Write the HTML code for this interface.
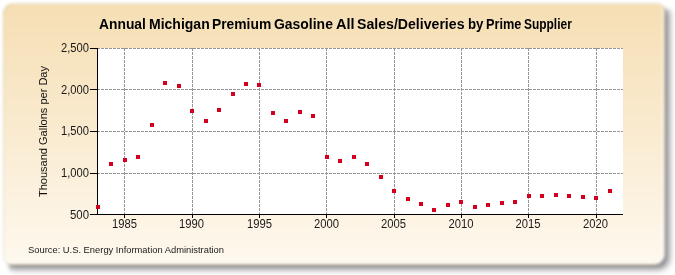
<!DOCTYPE html>
<html><head><meta charset="utf-8">
<style>
html,body{margin:0;padding:0;width:675px;height:275px;overflow:hidden;background:#fff;}
body{position:relative;font-family:"Liberation Sans",sans-serif;}
.sw{position:absolute;left:0;top:0;width:675px;height:275px;-webkit-mask-image:linear-gradient(to right,transparent 5px,#000 11px);mask-image:linear-gradient(to right,transparent 5px,#000 11px);}
.sw2{position:absolute;left:0;top:0;width:675px;height:275px;-webkit-mask-image:linear-gradient(to bottom,transparent 5px,#000 11px);mask-image:linear-gradient(to bottom,transparent 5px,#000 11px);}
.shadow{position:absolute;left:6.3px;top:7.1px;width:662.5px;height:262.2px;border-radius:11px 8px 11px 8px;background:rgba(10,10,20,0.52);filter:blur(3.6px);}
.box{position:absolute;left:2.5px;top:3.0px;width:662.5px;height:262.2px;border-radius:11px 8px 11px 8px;
box-sizing:border-box;border:1px solid rgba(110,110,80,0.15);background:linear-gradient(to bottom,#f5deb3 0%,#fef8ee 100%);filter:blur(1.6px);box-shadow:inset 0 -2px 1px rgba(255,255,255,0.8), inset -2px 0 1px rgba(255,255,255,0.45);}
svg{position:absolute;left:0;top:0;will-change:transform;}
text{font-family:"Liberation Sans",sans-serif;}
</style></head><body>
<div class="sw"><div class="sw2"><div class="shadow"></div></div></div>
<div class="box"></div>
<svg width="675" height="275">
<g shape-rendering="crispEdges">
<rect x="97" y="48" width="526" height="166" fill="#ffffff"/><line x1="124.5" y1="48" x2="124.5" y2="214" stroke="#969696" stroke-width="1" stroke-dasharray="3 1"/><line x1="192.5" y1="48" x2="192.5" y2="214" stroke="#969696" stroke-width="1" stroke-dasharray="3 1"/><line x1="259.5" y1="48" x2="259.5" y2="214" stroke="#969696" stroke-width="1" stroke-dasharray="3 1"/><line x1="326.5" y1="48" x2="326.5" y2="214" stroke="#969696" stroke-width="1" stroke-dasharray="3 1"/><line x1="394.5" y1="48" x2="394.5" y2="214" stroke="#969696" stroke-width="1" stroke-dasharray="3 1"/><line x1="461.5" y1="48" x2="461.5" y2="214" stroke="#969696" stroke-width="1" stroke-dasharray="3 1"/><line x1="528.5" y1="48" x2="528.5" y2="214" stroke="#969696" stroke-width="1" stroke-dasharray="3 1"/><line x1="596.5" y1="48" x2="596.5" y2="214" stroke="#969696" stroke-width="1" stroke-dasharray="3 1"/><line x1="97" y1="48.5" x2="623" y2="48.5" stroke="#969696" stroke-width="1" stroke-dasharray="3 1"/><line x1="97" y1="89.5" x2="623" y2="89.5" stroke="#969696" stroke-width="1" stroke-dasharray="3 1"/><line x1="97" y1="131.5" x2="623" y2="131.5" stroke="#969696" stroke-width="1" stroke-dasharray="3 1"/><line x1="97" y1="173.5" x2="623" y2="173.5" stroke="#969696" stroke-width="1" stroke-dasharray="3 1"/><rect x="97" y="48" width="1" height="167" fill="#000"/><rect x="97" y="214" width="526" height="1" fill="#000"/><rect x="90" y="48" width="7" height="1" fill="#000"/><rect x="90" y="89" width="7" height="1" fill="#000"/><rect x="90" y="131" width="7" height="1" fill="#000"/><rect x="90" y="173" width="7" height="1" fill="#000"/><rect x="90" y="214" width="7" height="1" fill="#000"/><rect x="124" y="214" width="1" height="4" fill="#000"/><rect x="192" y="214" width="1" height="4" fill="#000"/><rect x="259" y="214" width="1" height="4" fill="#000"/><rect x="326" y="214" width="1" height="4" fill="#000"/><rect x="394" y="214" width="1" height="4" fill="#000"/><rect x="461" y="214" width="1" height="4" fill="#000"/><rect x="528" y="214" width="1" height="4" fill="#000"/><rect x="596" y="214" width="1" height="4" fill="#000"/><rect x="96" y="205" width="4" height="4" fill="#d2001e"/><rect x="109" y="162" width="4" height="4" fill="#d2001e"/><rect x="123" y="158" width="4" height="4" fill="#d2001e"/><rect x="136" y="155" width="4" height="4" fill="#d2001e"/><rect x="150" y="123" width="4" height="4" fill="#d2001e"/><rect x="163" y="81" width="4" height="4" fill="#d2001e"/><rect x="177" y="84" width="4" height="4" fill="#d2001e"/><rect x="190" y="109" width="4" height="4" fill="#d2001e"/><rect x="204" y="119" width="4" height="4" fill="#d2001e"/><rect x="217" y="108" width="4" height="4" fill="#d2001e"/><rect x="231" y="92" width="4" height="4" fill="#d2001e"/><rect x="244" y="82" width="4" height="4" fill="#d2001e"/><rect x="257" y="83" width="4" height="4" fill="#d2001e"/><rect x="271" y="111" width="4" height="4" fill="#d2001e"/><rect x="284" y="119" width="4" height="4" fill="#d2001e"/><rect x="298" y="110" width="4" height="4" fill="#d2001e"/><rect x="311" y="114" width="4" height="4" fill="#d2001e"/><rect x="325" y="155" width="4" height="4" fill="#d2001e"/><rect x="338" y="159" width="4" height="4" fill="#d2001e"/><rect x="352" y="155" width="4" height="4" fill="#d2001e"/><rect x="365" y="162" width="4" height="4" fill="#d2001e"/><rect x="379" y="175" width="4" height="4" fill="#d2001e"/><rect x="392" y="189" width="4" height="4" fill="#d2001e"/><rect x="406" y="197" width="4" height="4" fill="#d2001e"/><rect x="419" y="202" width="4" height="4" fill="#d2001e"/><rect x="432" y="208" width="4" height="4" fill="#d2001e"/><rect x="446" y="203" width="4" height="4" fill="#d2001e"/><rect x="459" y="200" width="4" height="4" fill="#d2001e"/><rect x="473" y="205" width="4" height="4" fill="#d2001e"/><rect x="486" y="203" width="4" height="4" fill="#d2001e"/><rect x="500" y="201" width="4" height="4" fill="#d2001e"/><rect x="513" y="200" width="4" height="4" fill="#d2001e"/><rect x="527" y="194" width="4" height="4" fill="#d2001e"/><rect x="540" y="194" width="4" height="4" fill="#d2001e"/><rect x="554" y="193" width="4" height="4" fill="#d2001e"/><rect x="567" y="194" width="4" height="4" fill="#d2001e"/><rect x="581" y="195" width="4" height="4" fill="#d2001e"/><rect x="594" y="196" width="4" height="4" fill="#d2001e"/><rect x="608" y="189" width="4" height="4" fill="#d2001e"/>
</g>
<text x="99.0" y="29" font-size="14.5" font-weight="bold" fill="#000" textLength="46.89999999999999" lengthAdjust="spacingAndGlyphs">Annual</text><text x="149.0" y="29" font-size="14.5" font-weight="bold" fill="#000" textLength="60.7" lengthAdjust="spacingAndGlyphs">Michigan</text><text x="212.0" y="29" font-size="14.5" font-weight="bold" fill="#000" textLength="59.2" lengthAdjust="spacingAndGlyphs">Premium</text><text x="274.0" y="29" font-size="14.5" font-weight="bold" fill="#000" textLength="58.89999999999999" lengthAdjust="spacingAndGlyphs">Gasoline</text><text x="336.0" y="29" font-size="14.5" font-weight="bold" fill="#000" textLength="18.599999999999977" lengthAdjust="spacingAndGlyphs">All</text><text x="357.0" y="29" font-size="14.5" font-weight="bold" fill="#000" textLength="107.50000000000001" lengthAdjust="spacingAndGlyphs">Sales/Deliveries</text><text x="468.0" y="29" font-size="14.5" font-weight="bold" fill="#000" textLength="15.50000000000001" lengthAdjust="spacingAndGlyphs">by</text><text x="486.0" y="29" font-size="14.5" font-weight="bold" fill="#000" textLength="35.40000000000005" lengthAdjust="spacingAndGlyphs">Prime</text><text x="524.0" y="29" font-size="14.5" font-weight="bold" fill="#000" textLength="47.800000000000026" lengthAdjust="spacingAndGlyphs">Supplier</text>
<text x="89" y="52" text-anchor="end" font-size="12" fill="#1a1a1a" textLength="28" lengthAdjust="spacingAndGlyphs">2,500</text><text x="89" y="94" text-anchor="end" font-size="12" fill="#1a1a1a" textLength="28" lengthAdjust="spacingAndGlyphs">2,000</text><text x="89" y="135" text-anchor="end" font-size="12" fill="#1a1a1a" textLength="28" lengthAdjust="spacingAndGlyphs">1,500</text><text x="89" y="177" text-anchor="end" font-size="12" fill="#1a1a1a" textLength="28" lengthAdjust="spacingAndGlyphs">1,000</text><text x="89" y="219" text-anchor="end" font-size="12" fill="#1a1a1a" textLength="19" lengthAdjust="spacingAndGlyphs">500</text><text x="124.5" y="228" text-anchor="middle" font-size="12" fill="#1a1a1a" textLength="25" lengthAdjust="spacingAndGlyphs">1985</text><text x="191.5" y="228" text-anchor="middle" font-size="12" fill="#1a1a1a" textLength="25" lengthAdjust="spacingAndGlyphs">1990</text><text x="259.5" y="228" text-anchor="middle" font-size="12" fill="#1a1a1a" textLength="25" lengthAdjust="spacingAndGlyphs">1995</text><text x="326.5" y="228" text-anchor="middle" font-size="12" fill="#1a1a1a" textLength="25" lengthAdjust="spacingAndGlyphs">2000</text><text x="393.5" y="228" text-anchor="middle" font-size="12" fill="#1a1a1a" textLength="25" lengthAdjust="spacingAndGlyphs">2005</text><text x="461.0" y="228" text-anchor="middle" font-size="12" fill="#1a1a1a" textLength="25" lengthAdjust="spacingAndGlyphs">2010</text><text x="528.0" y="228" text-anchor="middle" font-size="12" fill="#1a1a1a" textLength="25" lengthAdjust="spacingAndGlyphs">2015</text><text x="595.5" y="228" text-anchor="middle" font-size="12" fill="#1a1a1a" textLength="25" lengthAdjust="spacingAndGlyphs">2020</text>
<text transform="translate(47,197) rotate(-90)" x="0" y="0" font-size="11" fill="#111" textLength="131" lengthAdjust="spacingAndGlyphs">Thousand Gallons per Day</text>
<text x="28" y="253" font-size="9.3" fill="#1a1a1a" textLength="196" lengthAdjust="spacingAndGlyphs">Source: U.S. Energy Information Administration</text>
</svg>
</body></html>
